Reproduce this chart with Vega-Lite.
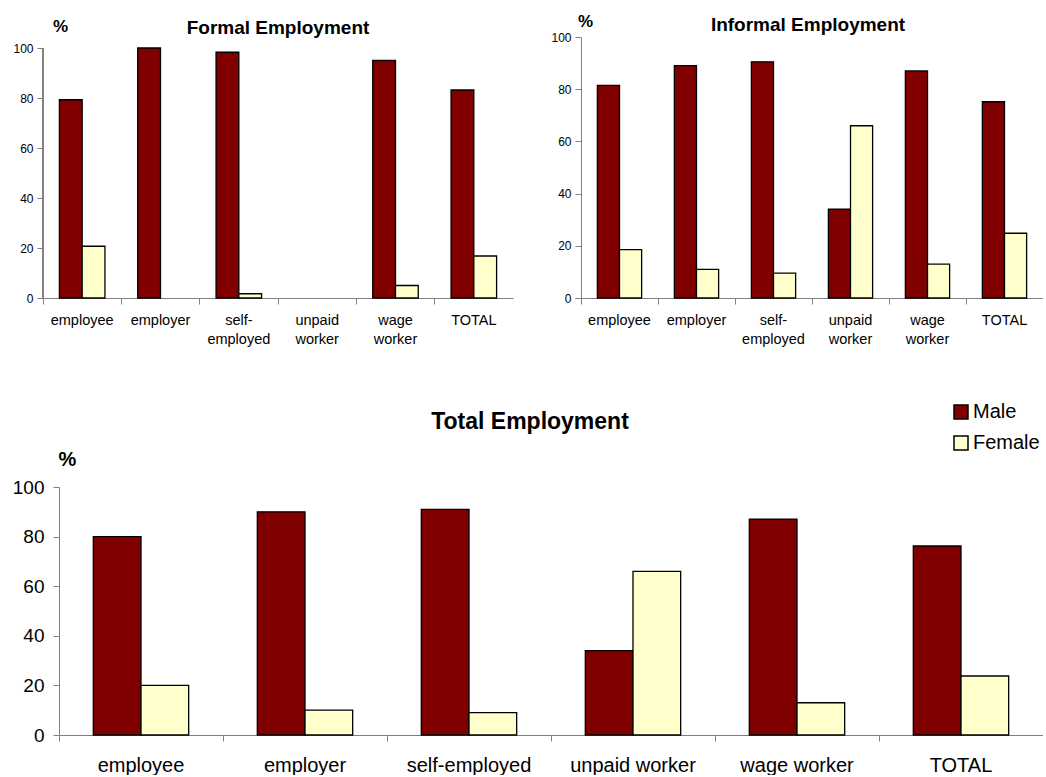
{
  "$schema": "https://vega.github.io/schema/vega-lite/v6.json",
  "padding": {"left": 12, "top": 12, "right": 0, "bottom": 0},
  "config": {
    "view": {"stroke": null},
    "font": "Liberation Sans",
    "axis": {"grid": false, "domainColor": "#808080", "tickColor": "#808080", "labelColor": "#000000", "titleColor": "#000000", "tickSize": 6, "labelFont": "Liberation Sans", "titleFont": "Liberation Sans"},
    "title": {"font": "Liberation Sans", "fontWeight": "bold", "color": "#000000"}
  },
  "datasets": {
    "formal": [
      {"cat": "employee", "sex": "Male", "value": 79.3},
      {"cat": "employee", "sex": "Female", "value": 20.7},
      {"cat": "employer", "sex": "Male", "value": 100},
      {"cat": "self-employed", "sex": "Male", "value": 98.3},
      {"cat": "self-employed", "sex": "Female", "value": 1.7},
      {"cat": "wage worker", "sex": "Male", "value": 95},
      {"cat": "wage worker", "sex": "Female", "value": 5},
      {"cat": "TOTAL", "sex": "Male", "value": 83.2},
      {"cat": "TOTAL", "sex": "Female", "value": 16.8}
    ],
    "informal": [
      {"cat": "employee", "sex": "Male", "value": 81.5},
      {"cat": "employee", "sex": "Female", "value": 18.5},
      {"cat": "employer", "sex": "Male", "value": 89},
      {"cat": "employer", "sex": "Female", "value": 11},
      {"cat": "self-employed", "sex": "Male", "value": 90.5},
      {"cat": "self-employed", "sex": "Female", "value": 9.5},
      {"cat": "unpaid worker", "sex": "Male", "value": 34},
      {"cat": "unpaid worker", "sex": "Female", "value": 66},
      {"cat": "wage worker", "sex": "Male", "value": 87},
      {"cat": "wage worker", "sex": "Female", "value": 13},
      {"cat": "TOTAL", "sex": "Male", "value": 75.2},
      {"cat": "TOTAL", "sex": "Female", "value": 24.8}
    ],
    "total": [
      {"cat": "employee", "sex": "Male", "value": 80},
      {"cat": "employee", "sex": "Female", "value": 20},
      {"cat": "employer", "sex": "Male", "value": 90},
      {"cat": "employer", "sex": "Female", "value": 10},
      {"cat": "self-employed", "sex": "Male", "value": 91},
      {"cat": "self-employed", "sex": "Female", "value": 9},
      {"cat": "unpaid worker", "sex": "Male", "value": 34},
      {"cat": "unpaid worker", "sex": "Female", "value": 66},
      {"cat": "wage worker", "sex": "Male", "value": 87},
      {"cat": "wage worker", "sex": "Female", "value": 13},
      {"cat": "TOTAL", "sex": "Male", "value": 76.2},
      {"cat": "TOTAL", "sex": "Female", "value": 23.8}
    ]
  },
  "spacing": 56,
  "resolve": {"scale": {"color": "independent", "x": "independent", "y": "independent", "xOffset": "independent"}, "legend": {"color": "independent"}},
  "vconcat": [
    {
      "spacing": 68,
      "bounds": "flush",
      "resolve": {"scale": {"color": "independent", "x": "independent", "y": "independent", "xOffset": "independent"}, "legend": {"color": "independent"}},
      "hconcat": [
        {
          "data": {"name": "formal"},
          "width": 470,
          "height": 261,
          "title": {"text": "Formal Employment", "fontSize": 19, "frame": "group", "anchor": "middle", "offset": -20.7},
          "layer": [
            {
              "mark": {"type": "bar", "stroke": "#000000", "strokeWidth": 1.3},
              "encoding": {
                "x": {"field": "cat", "type": "nominal", "sort": ["employee", "employer", "self-employed", "unpaid worker", "wage worker", "TOTAL"],
                  "scale": {"domain": ["employee", "employer", "self-employed", "unpaid worker", "wage worker", "TOTAL"], "paddingInner": 0, "paddingOuter": 0},
                  "axis": {"title": null, "bandPosition": 0, "labelAngle": 0, "labelFontSize": 14.5, "labelLineHeight": 18.5, "labelPadding": 9.5, "labelAlign": "center",
                    "labelExpr": "datum.label == 'self-employed' ? ['self-', 'employed'] : (datum.label == 'unpaid worker' ? ['unpaid', 'worker'] : (datum.label == 'wage worker' ? ['wage', 'worker'] : datum.label))"}},
                "xOffset": {"field": "sex", "type": "nominal", "sort": ["Male", "Female"], "scale": {"domain": ["Male", "Female"], "paddingInner": 0, "paddingOuter": 0.72}},
                "y": {"field": "value", "type": "quantitative", "scale": {"domain": [0, 104.4], "nice": false},
                  "axis": {"values": [0, 20, 40, 60, 80, 100], "domain": false, "labelFontSize": 12, "labelPadding": 4, "title": "%", "titleAngle": 0, "titleFontSize": 17, "titleFontWeight": "bold", "titleAlign": "center", "titleBaseline": "middle", "titleX": 17, "titleY": -11}},
                "color": {"field": "sex", "type": "nominal", "scale": {"domain": ["Male", "Female"], "range": ["#800000", "#FFFFCC"]}, "legend": null}
              }
            },
            {
              "mark": {"type": "rule", "color": "#808080", "strokeWidth": 1},
              "encoding": {
                "x": {"datum": "employee", "type": "nominal", "bandPosition": 0},
                "y": {"datum": 0, "type": "quantitative"},
                "y2": {"datum": 100}
              }
            }
          ]
        },
        {
          "data": {"name": "informal"},
          "width": 462,
          "height": 261,
          "title": {"text": "Informal Employment", "fontSize": 19, "frame": "group", "anchor": "middle", "offset": -22.5, "dx": -4},
          "mark": {"type": "bar", "stroke": "#000000", "strokeWidth": 1.3},
          "encoding": {
            "x": {"field": "cat", "type": "nominal", "sort": ["employee", "employer", "self-employed", "unpaid worker", "wage worker", "TOTAL"],
              "scale": {"domain": ["employee", "employer", "self-employed", "unpaid worker", "wage worker", "TOTAL"], "paddingInner": 0, "paddingOuter": 0},
              "axis": {"title": null, "bandPosition": 0, "labelAngle": 0, "labelFontSize": 14.5, "labelLineHeight": 18.5, "labelPadding": 9.5, "labelAlign": "center",
                "labelExpr": "datum.label == 'self-employed' ? ['self-', 'employed'] : (datum.label == 'unpaid worker' ? ['unpaid', 'worker'] : (datum.label == 'wage worker' ? ['wage', 'worker'] : datum.label))"}},
            "xOffset": {"field": "sex", "type": "nominal", "sort": ["Male", "Female"], "scale": {"domain": ["Male", "Female"], "paddingInner": 0, "paddingOuter": 0.74}},
            "y": {"field": "value", "type": "quantitative", "scale": {"domain": [0, 100], "nice": false},
              "axis": {"values": [0, 20, 40, 60, 80, 100], "labelFontSize": 12, "labelPadding": 4, "title": "%", "titleAngle": 0, "titleFontSize": 17, "titleFontWeight": "bold", "titleAlign": "center", "titleBaseline": "middle", "titleX": 4, "titleY": -15.5}},
            "color": {"field": "sex", "type": "nominal", "scale": {"domain": ["Male", "Female"], "range": ["#800000", "#FFFFCC"]}, "legend": null}
          }
        }
      ]
    },
    {
      "data": {"name": "total"},
      "width": 1000,
      "height": 248,
      "title": {"text": "Total Employment", "fontSize": 23, "frame": "group", "anchor": "middle", "offset": -32, "dx": -13},
      "mark": {"type": "bar", "stroke": "#000000", "strokeWidth": 1.3},
      "encoding": {
        "x": {"field": "cat", "type": "nominal", "sort": ["employee", "employer", "self-employed", "unpaid worker", "wage worker", "TOTAL"],
          "scale": {"domain": ["employee", "employer", "self-employed", "unpaid worker", "wage worker", "TOTAL"], "paddingInner": 0, "paddingOuter": 0, "range": [16, 1000]},
          "axis": {"title": null, "bandPosition": 0, "labelAngle": 0, "labelFontSize": 20, "labelPadding": 14, "labelAlign": "center"}},
        "xOffset": {"field": "sex", "type": "nominal", "sort": ["Male", "Female"], "scale": {"domain": ["Male", "Female"], "paddingInner": 0, "paddingOuter": 0.72}},
        "y": {"field": "value", "type": "quantitative", "scale": {"domain": [0, 100], "nice": false},
          "axis": {"offset": -16, "values": [0, 20, 40, 60, 80, 100], "labelFontSize": 19, "labelPadding": 9, "title": "%", "titleAngle": 0, "titleFontSize": 20, "titleFontWeight": "bold", "titleAlign": "center", "titleBaseline": "middle", "titleX": 8, "titleY": -28}},
        "color": {"field": "sex", "type": "nominal", "scale": {"domain": ["Male", "Female"], "range": ["#800000", "#FFFFCC"]},
          "legend": {"title": null, "orient": "none", "legendX": 908, "legendY": -85, "padding": 0, "offset": 0, "symbolType": "square", "symbolSize": 196, "symbolStrokeColor": "#000000", "symbolStrokeWidth": 1.5, "symbolOpacity": 1, "labelFontSize": 20, "labelFont": "Liberation Sans", "labelColor": "#000000", "labelOffset": 2, "rowPadding": 11}}
      }
    }
  ]
}
